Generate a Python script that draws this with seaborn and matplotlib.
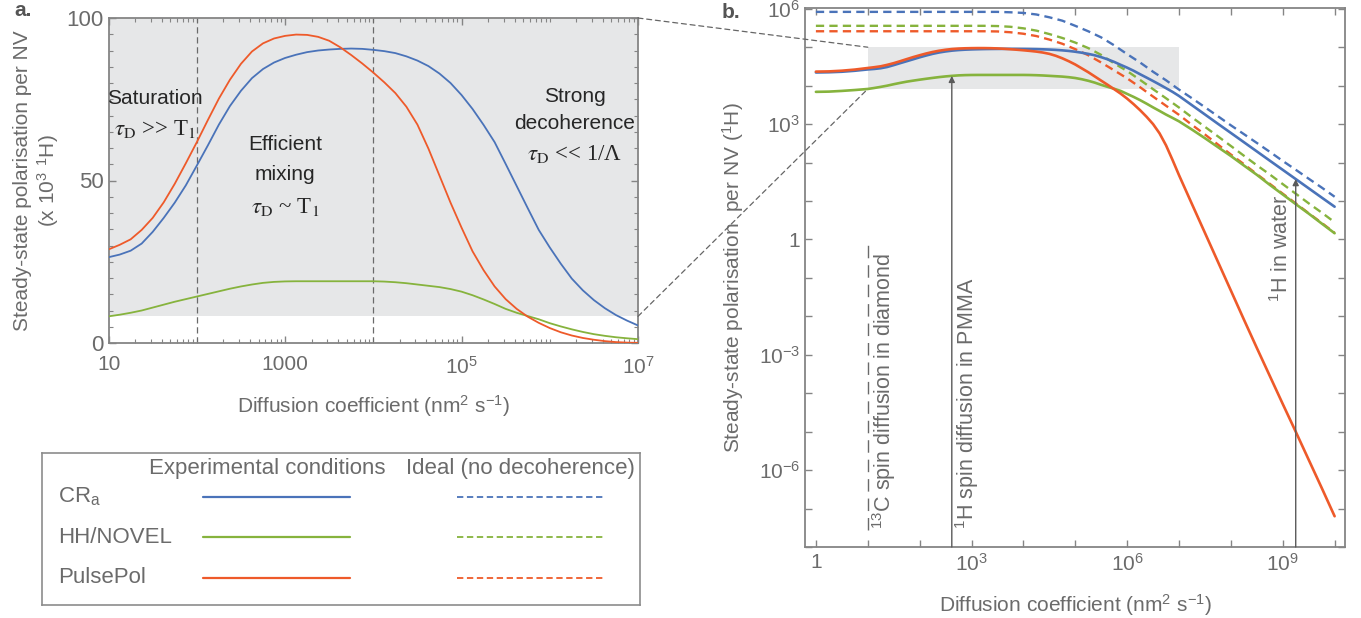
import numpy as np
import pandas as pd
import matplotlib
matplotlib.use("Agg")
import matplotlib.pyplot as plt
import seaborn as sns
from matplotlib.patches import ConnectionPatch, Rectangle
from matplotlib.ticker import FixedLocator, FixedFormatter, LogLocator, MultipleLocator, NullFormatter

# ---------------- data ----------------
# experimental conditions: log10(D / nm^2 s^-1) and polarisation per NV in units of 10^3 1H
log_D_exp = [0.0, 0.25, 0.5, 0.75,
             1.0, 1.125, 1.25, 1.375, 1.5, 1.625, 1.75, 1.875,
             2.0, 2.125, 2.25, 2.375, 2.5, 2.625, 2.75, 2.875,
             3.0, 3.125, 3.25, 3.375, 3.5, 3.625, 3.75, 3.875,
             4.0, 4.125, 4.25, 4.375, 4.5, 4.625, 4.75, 4.875,
             5.0, 5.125, 5.25, 5.375, 5.5, 5.625, 5.75, 5.875,
             6.0, 6.125, 6.25, 6.375, 6.5, 6.625, 6.75, 6.875,
             7.0, 7.25, 7.5, 7.75, 8.0, 8.25, 8.5, 8.75, 9.0, 9.25, 9.5, 9.75, 10.0]

cra_exp = [22.0, 22.3, 23.0, 24.4,
           26.4, 27.2, 28.4, 30.6, 34.2, 38.5, 43.2, 48.5,
           54.6, 60.8, 67.2, 72.9, 77.6, 81.5, 84.3, 86.3,
           87.7, 88.7, 89.5, 90.0, 90.3, 90.5, 90.6, 90.5,
           90.2, 89.8, 89.2, 88.2, 86.9, 85.2, 82.9, 80.0,
           76.3, 72.0, 67.1, 61.8, 55.1, 48.3, 41.5, 34.8,
           29.4, 24.4, 19.8, 16.2, 13.2, 10.7, 8.6, 6.9,
           5.4, 3.1, 1.78, 1.02, 0.589, 0.339, 0.195, 0.112, 0.0646, 0.0372, 0.0214, 0.0123, 0.0071]
hh_exp = [6.9, 7.0, 7.3, 7.7,
          8.2, 8.7, 9.3, 10.0, 10.9, 11.8, 12.7, 13.5,
          14.3, 15.1, 15.9, 16.7, 17.4, 18.0, 18.5, 18.8,
          18.95, 19.0, 19.0, 19.0, 19.0, 19.0, 19.0, 19.0,
          19.0, 18.9, 18.7, 18.4, 18.0, 17.6, 17.2, 16.6,
          15.8, 14.7, 13.4, 12.0, 10.5, 9.3, 8.3, 7.3,
          6.1, 5.1, 4.2, 3.4, 2.72, 2.2, 1.77, 1.45,
          1.18, 0.72, 0.43, 0.252, 0.148, 0.084, 0.048, 0.0263, 0.0148, 0.0083, 0.0047, 0.0026, 0.00145]
pp_exp = [23.2, 23.5, 24.5, 26.2,
          28.8, 30.2, 31.9, 34.8, 38.5, 43.3, 49.0, 55.3,
          61.8, 68.6, 75.2, 81.0, 85.9, 89.7, 92.2, 93.7,
          94.5, 94.9, 94.8, 94.2, 93.0, 91.0, 88.6, 86.0,
          83.2, 80.2, 76.9, 72.7, 67.2, 59.8, 51.5, 43.2,
          35.5, 28.2, 22.4, 17.4, 13.5, 10.5, 8.1, 6.2,
          4.6, 3.3, 2.3, 1.55, 1.0, 0.575, 0.28, 0.117,
          0.047, 8.3e-3, 1.48e-3, 2.63e-4, 4.68e-5, 8.3e-6, 1.51e-6, 2.82e-7, 5.25e-8, 1.0e-8,
          1.86e-9, 3.47e-10, 6.3e-11]

# ideal (no decoherence): log10(D) and polarisation per NV (1H)
log_D_ideal = [0.0, 0.25, 0.5, 0.75, 1.0, 1.25, 1.5, 1.75, 2.0, 2.25, 2.5, 2.75, 3.0, 3.25,
               3.5, 3.75, 4.0, 4.25, 4.5, 4.75, 5.0, 5.25, 5.5, 5.75, 6.0, 6.25, 6.5, 6.75,
               7.0, 7.25, 7.5, 7.75, 8.0, 8.25, 8.5, 8.75, 9.0, 9.25, 9.5, 9.75, 10.0]
cra_ideal = [8.3e5] * 15 + [8.1e5, 7.8e5, 7.1e5, 6.0e5, 4.9e5, 3.6e5, 2.6e5, 1.8e5, 1.12e5,
             6.6e4, 4.0e4, 2.3e4, 1.38e4, 7.9e3, 4.7e3, 2.75e3, 1.6e3, 930, 550, 324, 190, 110,
             65, 38, 22.4, 12.9]
hh_ideal = [3.6e5] * 14 + [3.55e5, 3.4e5, 3.1e5, 2.7e5, 2.2e5, 1.74e5, 1.32e5, 9.5e4, 6.3e4,
            3.8e4, 2.4e4, 1.41e4, 8.1e3, 4.7e3, 2.7e3, 1.5e3, 850, 480, 270, 151, 85, 49, 27.5,
            15.5, 8.7, 5.0, 2.8]
pp_ideal = [2.6e5] * 14 + [2.57e5, 2.45e5, 2.24e5, 1.95e5, 1.58e5, 1.23e5, 8.9e4, 6.2e4, 4.0e4,
            2.5e4, 1.55e4, 9.1e3, 5.2e3, 3.0e3, 1.74e3, 955, 537, 295, 162, 91, 50, 28, 15.5,
            8.7, 4.8, 2.7, 1.48]

protocols = ["CR$_{\\rm a}$", "HH/NOVEL", "PulsePol"]
colors = ["#4a73b9", "#86b33d", "#ee5a2a"]

zoom_D = [10, 1e7]            # range shown in panel a
zoom_P = [8.2e3, 1e5]         # shaded range (1H per NV)
regime_bounds = [1e2, 1e4]    # dashed lines in panel a
D_diamond = 10
D_pmma = 10 ** 2.62
D_water = 10 ** 9.25

a_xticks = [10, 1e3, 1e5, 1e7]
a_xlabels = ["10", "1000", "10$^5$", "10$^7$"]
a_yticks = [0, 50, 100]
a_ylabels = ["0", "50", "100"]
b_xticks = [1, 1e3, 1e6, 1e9]
b_xlabels = ["1", "10$^3$", "10$^6$", "10$^9$"]
b_yticks = [1e-6, 1e-3, 1, 1e3, 1e6]
b_ylabels = ["10$^{-6}$", "10$^{-3}$", "1", "10$^3$", "10$^6$"]

# ---------------- dataframes ----------------
dfe = pd.DataFrame({"D": [10 ** v for v in log_D_exp],
                    "cra": cra_exp, "hh": hh_exp, "pp": pp_exp})
for k in ["cra", "hh", "pp"]:
    dfe[k + "_abs"] = dfe[k] * 1e3
dfi = pd.DataFrame({"D": [10 ** v for v in log_D_ideal],
                    "cra": cra_ideal, "hh": hh_ideal, "pp": pp_ideal})
dfa = dfe[(dfe["D"] >= zoom_D[0] * 0.999999) & (dfe["D"] <= zoom_D[1] * 1.000001)]

# ---------------- style ----------------
sns.set_theme(style="ticks")
plt.rcParams["font.family"] = ["Liberation Sans", "DejaVu Sans"]
plt.rcParams["mathtext.fontset"] = "custom"
plt.rcParams["mathtext.rm"] = "Liberation Sans"
plt.rcParams["mathtext.it"] = "Liberation Sans:italic"
plt.rcParams["mathtext.bf"] = "Liberation Sans:bold"

SP = "#858585"
TXT = "#6b6b6b"
SHADE = "#e6e7e8"

W, H = 1361, 618
fig = plt.figure(figsize=(W / 100, H / 100), dpi=100)
ax1 = fig.add_axes([108.6 / W, (H - 343) / H, 529.4 / W, (343 - 18) / H])
ax2 = fig.add_axes([805 / W, (H - 547) / H, 540 / W, 539 / H])
axl = fig.add_axes([42 / W, (H - 605) / H, 598 / W, 152 / H])


def style_axes(ax, xpad):
    for s in ax.spines.values():
        s.set_color(SP)
        s.set_linewidth(1.3)
    ax.tick_params(which="both", direction="in", top=True, right=True, color=SP,
                   labelcolor=TXT, labelsize=15)
    ax.tick_params(which="major", length=5, width=1)
    ax.tick_params(which="minor", length=3, width=0.8)
    ax.tick_params(axis="x", pad=xpad)


# ---------------- panel a ----------------
ax1.axhspan(zoom_P[0] / 1e3, zoom_P[1] / 1e3, color=SHADE, lw=0, zorder=0)
for xb in regime_bounds:
    ax1.axvline(xb, color="#6a6a6a", lw=0.9, ls=(0, (5, 3)), zorder=1)
for key, c in zip(["hh", "cra", "pp"], [colors[1], colors[0], colors[2]]):
    sns.lineplot(data=dfa, x="D", y=key, ax=ax1, color=c, lw=1.3, zorder=3)
ax1.set_xscale("log")
ax1.set_xlim(zoom_D[0], zoom_D[1])
ax1.set_ylim(0, 100)
ax1.xaxis.set_major_locator(FixedLocator(a_xticks))
ax1.xaxis.set_major_formatter(FixedFormatter(a_xlabels))
ax1.xaxis.set_minor_locator(LogLocator(base=10, subs=np.arange(1, 10), numticks=60))
ax1.xaxis.set_minor_formatter(NullFormatter())
ax1.yaxis.set_major_locator(FixedLocator(a_yticks))
ax1.yaxis.set_major_formatter(FixedFormatter(a_ylabels))
ax1.yaxis.set_minor_locator(MultipleLocator(5))
style_axes(ax1, 9)
ax1.tick_params(axis="y", labelsize=16)
ax1.set_xlabel("Diffusion coefficient (nm$^2$ s$^{-1}$)", color=TXT, fontsize=15, labelpad=11)
ax1.set_ylabel("Steady-state polarisation per NV\n(x 10$^3$ $^1$H)", color=TXT, fontsize=15,
               labelpad=4, linespacing=1.15)

SERIF = ["Liberation Serif", "DejaVu Serif"]
tc = "#262626"
plain = [(0.088, 0.752, "Saturation"), (0.333, 0.61, "Efficient"), (0.333, 0.52, "mixing"),
         (0.881, 0.759, "Strong"), (0.881, 0.675, "decoherence")]
for xx, yy, s in plain:
    ax1.text(xx, yy, s, transform=ax1.transAxes, ha="center", va="center", fontsize=15, color=tc)
taus = [(0.088, 0.659, r"$\tau_{\rm D}$ >> T$_{\rm 1}$"),
        (0.333, 0.418, r"$\tau_{\rm D}$ ~ T$_{\rm 1}$"),
        (0.881, 0.582, r"$\tau_{\rm D}$ << 1/Λ")]
for xx, yy, s in taus:
    ax1.text(xx, yy, s, transform=ax1.transAxes, ha="center", va="center", fontsize=16.5,
             color=tc, family=SERIF, math_fontfamily="stix")

# ---------------- panel b ----------------
ax2.add_patch(Rectangle((zoom_D[0], zoom_P[0]), zoom_D[1] - zoom_D[0], zoom_P[1] - zoom_P[0],
                        facecolor=SHADE, edgecolor="none", zorder=0))
dash = (0, (3.5, 2.2))
for key, c in zip(["cra", "hh", "pp"], colors):
    sns.lineplot(data=dfi, x="D", y=key, ax=ax2, color=c, lw=1.7, linestyle=dash, zorder=3)
for key, c in zip(["hh", "cra", "pp"], [colors[1], colors[0], colors[2]]):
    sns.lineplot(data=dfe, x="D", y=key + "_abs", ax=ax2, color=c, lw=1.9, zorder=4)
ax2.set_xscale("log")
ax2.set_yscale("log")
ax2.set_xlim(10 ** -0.21, 10 ** 10.2)
ax2.set_ylim(1e-8, 10 ** 6.02)

ax2.axvline(D_diamond, ymin=0.032, ymax=0.56, color="#6a6a6a", lw=1.0, ls=(0, (9, 5)), zorder=2)
pmma_y = 1e3 * float(np.interp(np.log10(D_pmma), log_D_exp, hh_exp))
water_y = 1e3 * 10 ** float(np.interp(np.log10(D_water), log_D_exp, np.log10(cra_exp)))
arrow = dict(arrowstyle="-|>", color="#5a5a5a", lw=1.0, mutation_scale=9, shrinkA=0, shrinkB=0)
ax2.annotate("", xy=(D_pmma, pmma_y), xytext=(D_pmma, 1e-8), arrowprops=arrow, zorder=5)
ax2.annotate("", xy=(D_water, water_y), xytext=(D_water, 1e-8), arrowprops=arrow, zorder=5)
ax2.text(0.147, 0.034, "$^{13}$C spin diffusion in diamond", transform=ax2.transAxes,
         rotation=90, ha="center", va="bottom", fontsize=15.5, color=TXT)
ax2.text(0.301, 0.034, "$^{1}$H spin diffusion in PMMA", transform=ax2.transAxes,
         rotation=90, ha="center", va="bottom", fontsize=15.5, color=TXT)
ax2.text(0.883, 0.455, "$^{1}$H in water", transform=ax2.transAxes,
         rotation=90, ha="center", va="bottom", fontsize=15.5, color=TXT)

ax2.xaxis.set_major_locator(FixedLocator(b_xticks))
ax2.xaxis.set_major_formatter(FixedFormatter(b_xlabels))
ax2.xaxis.set_minor_locator(LogLocator(base=10, subs=(1.0,), numticks=40))
ax2.xaxis.set_minor_formatter(NullFormatter())
ax2.yaxis.set_major_locator(FixedLocator(b_yticks))
ax2.yaxis.set_major_formatter(FixedFormatter(b_ylabels))
ax2.yaxis.set_minor_locator(LogLocator(base=10, subs=(1.0,), numticks=40))
ax2.yaxis.set_minor_formatter(NullFormatter())
style_axes(ax2, 4)
ax2.tick_params(which="minor", length=5, width=1)
ax2.set_xlabel("Diffusion coefficient (nm$^2$ s$^{-1}$)", color=TXT, fontsize=15, labelpad=13)
ax2.set_ylabel("Steady-state polarisation  per NV ($^1$H)", color=TXT, fontsize=15, labelpad=9)

# connector lines from panel a to the shaded box of panel b
for ya, yb in [(zoom_P[1] / 1e3, zoom_P[1]), (zoom_P[0] / 1e3, zoom_P[0])]:
    con = ConnectionPatch(xyA=(zoom_D[1], ya), coordsA=ax1.transData,
                          xyB=(zoom_D[0], yb), coordsB=ax2.transData,
                          color="#666666", lw=0.9, ls=(0, (4, 3)), zorder=1)
    fig.add_artist(con)

# ---------------- legend box ----------------
axl.set_xlim(0, 1)
axl.set_ylim(0, 1)
axl.set_xticks([])
axl.set_yticks([])
for s in axl.spines.values():
    s.set_color("#8c8c8c")
    s.set_linewidth(1.2)
axl.text(0.376, 0.895, "Experimental conditions", ha="center", va="center", fontsize=16, color=TXT)
axl.text(0.80, 0.895, "Ideal (no decoherence)", ha="center", va="center", fontsize=16, color=TXT)
rows_y = [0.71, 0.447, 0.178]
for name, c, yy in zip(protocols, colors, rows_y):
    axl.text(0.027, yy, name, ha="left", va="center", fontsize=16, color=TXT)
    axl.plot([0.269, 0.515], [yy, yy], color=c, lw=1.6)
    axl.plot([0.694, 0.941], [yy, yy], color=c, lw=1.3, ls=(0, (3.5, 2)))

# panel letters
fig.text(14 / W, 1 - 10 / H, "a.", fontsize=15, fontweight="bold", color="#555555", ha="left", va="center")
fig.text(722 / W, 1 - 12 / H, "b.", fontsize=15, fontweight="bold", color="#555555", ha="left", va="center")

fig.savefig("out.png", dpi=100)
